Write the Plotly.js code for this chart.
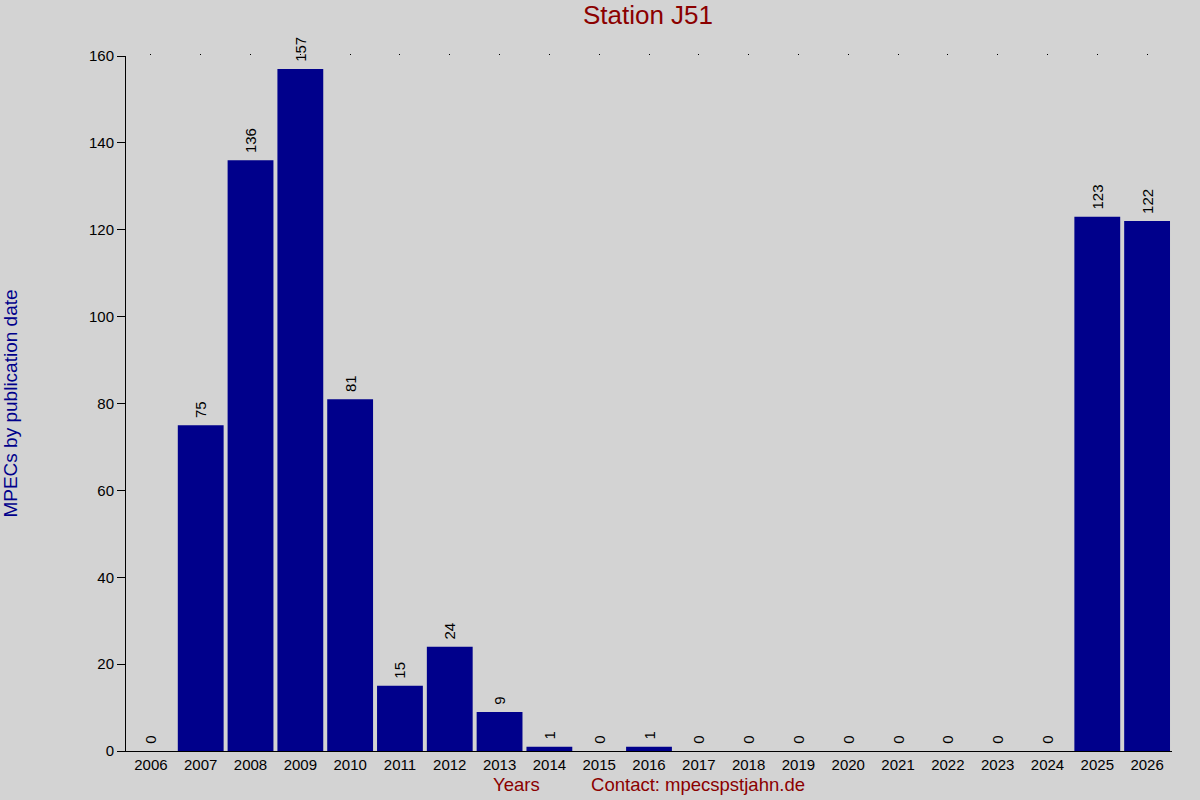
<!DOCTYPE html>
<html>
<head>
<meta charset="utf-8">
<script src="https://cdn.plot.ly/plotly-3.0.1.min.js"></script>
<style>html,body{margin:0;padding:0;background:#d3d3d3;}#chart{width:1200px;height:800px;}</style>
</head>
<body>
<div id="chart"></div>
<script>
const years = ["2006","2007","2008","2009","2010","2011","2012","2013","2014","2015","2016","2017","2018","2019","2020","2021","2022","2023","2024","2025","2026"];
const mpecs = [0,75,136,157,81,15,24,9,1,0,1,0,0,0,0,0,0,0,0,123,122];
const yTicks = [0,20,40,60,80,100,120,140,160];
const chartTitle = "Station J51";
const yTitle = "MPECs by publication date";
const xTitle = "Years" + "\u00a0".repeat(10) + "Contact: mpecspstjahn.de";

const FONT = "Liberation Sans, Arial, sans-serif";

const trace = {
  type: "bar",
  x: years,
  y: mpecs,
  text: mpecs.map(v => "\u00a0" + v),
  textposition: "outside",
  textangle: -90,
  constraintext: "none",
  textfont: {family: FONT, size: 15, color: "#000"},
  cliponaxis: false,
  marker: {color: "#00008b", line: {width: 0}},
  hoverinfo: "x+y"
};

// hidden helper trace so the top (tick-only) axis is drawn
const topAxisTrace = {
  type: "scatter",
  mode: "none",
  x: years,
  y: mpecs,
  xaxis: "x2",
  yaxis: "y",
  hoverinfo: "skip",
  showlegend: false
};

const layout = {
  width: 1200, height: 800,
  paper_bgcolor: "#d3d3d3",
  plot_bgcolor: "#d3d3d3",
  margin: {l: 126, r: 28, t: 56, b: 49, pad: 0},
  bargap: 0.08,
  showlegend: false,
  font: {family: FONT, size: 15, color: "#000"},
  title: {text: chartTitle, font: {family: FONT, size: 26, color: "#8b0000"}, x: 0.54, xanchor: "center", y: 0.981, yanchor: "middle"},
  xaxis: {
    type: "category",
    showline: true, linecolor: "#000", linewidth: 1,
    ticks: "", showgrid: false, zeroline: false,
    tickfont: {family: FONT, size: 15, color: "#000"},
    title: {text: xTitle, font: {family: FONT, size: 18.5, color: "#8b0000"}, standoff: 6},
    automargin: false
  },
  xaxis2: {
    type: "category",
    overlaying: "x",
    matches: "x",
    side: "top",
    showline: false,
    ticks: "outside", ticklen: 1, tickwidth: 1, tickcolor: "#000",
    showticklabels: false, showgrid: false, zeroline: false,
    automargin: false
  },
  yaxis: {
    range: [0, 160],
    tickvals: yTicks,
    showline: true, linecolor: "#000", linewidth: 1,
    ticks: "outside", ticklen: 8, tickcolor: "#000",
    showgrid: false, zeroline: false,
    tickfont: {family: FONT, size: 15, color: "#000"},
    title: {text: yTitle, font: {family: FONT, size: 19, color: "#00008b"}, standoff: 69},
    automargin: false
  }
};

Plotly.newPlot("chart", [trace, topAxisTrace], layout, {displayModeBar: false, staticPlot: true});
</script>
</body>
</html>
